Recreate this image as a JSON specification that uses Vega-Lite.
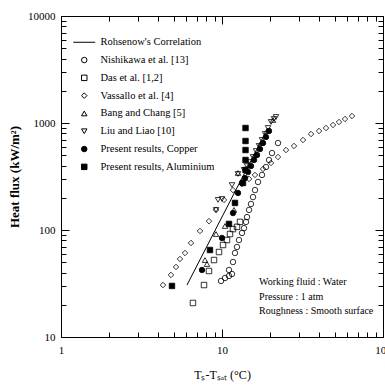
{
  "$schema": "https://vega.github.io/schema/vega-lite/v6.json",
  "width": 322,
  "height": 321,
  "autosize": {"type": "none"},
  "padding": {"left": 61, "top": 16, "right": 2, "bottom": 50},
  "background": "white",
  "config": {
    "view": {"stroke": null},
    "font": "Liberation Serif",
    "axis": {
      "grid": false,
      "domainColor": "black",
      "domainWidth": 1,
      "labelColor": "black",
      "labelFont": "Liberation Serif",
      "labelFontSize": 11,
      "titleColor": "black",
      "titleFont": "Liberation Serif"
    },
    "legend": {
      "orient": "none",
      "legendX": 18,
      "legendY": 21,
      "padding": 0,
      "labelFont": "Liberation Serif",
      "labelFontSize": 10.5,
      "labelColor": "black",
      "symbolSize": 30,
      "symbolStrokeWidth": 1,
      "symbolStrokeColor": "black",
      "rowPadding": 6.8,
      "labelOffset": 11,
      "labelLimit": 300
    }
  },
  "datasets": {
    "line": [
      {"dT": 6.06, "q": 30.6},
      {"dT": 18.5, "q": 800}
    ],
    "pts": [
      {"series": "Vassallo et al. [4]", "dT": 4.30, "q": 30.6},
      {"series": "Vassallo et al. [4]", "dT": 4.82, "q": 38.0},
      {"series": "Vassallo et al. [4]", "dT": 5.18, "q": 45.1},
      {"series": "Vassallo et al. [4]", "dT": 5.48, "q": 53.6},
      {"series": "Vassallo et al. [4]", "dT": 5.89, "q": 61.0},
      {"series": "Vassallo et al. [4]", "dT": 6.42, "q": 75.6},
      {"series": "Vassallo et al. [4]", "dT": 7.30, "q": 97.9},
      {"series": "Vassallo et al. [4]", "dT": 8.30, "q": 121},
      {"series": "Vassallo et al. [4]", "dT": 9.18, "q": 154},
      {"series": "Vassallo et al. [4]", "dT": 10.29, "q": 191},
      {"series": "Vassallo et al. [4]", "dT": 11.70, "q": 236},
      {"series": "Vassallo et al. [4]", "dT": 13.31, "q": 269},
      {"series": "Vassallo et al. [4]", "dT": 14.72, "q": 300},
      {"series": "Vassallo et al. [4]", "dT": 16.03, "q": 327},
      {"series": "Vassallo et al. [4]", "dT": 17.98, "q": 372},
      {"series": "Vassallo et al. [4]", "dT": 20.16, "q": 423},
      {"series": "Vassallo et al. [4]", "dT": 22.28, "q": 481},
      {"series": "Vassallo et al. [4]", "dT": 24.97, "q": 559},
      {"series": "Vassallo et al. [4]", "dT": 28.01, "q": 610},
      {"series": "Vassallo et al. [4]", "dT": 31.85, "q": 694},
      {"series": "Vassallo et al. [4]", "dT": 35.72, "q": 789},
      {"series": "Vassallo et al. [4]", "dT": 40.05, "q": 842},
      {"series": "Vassallo et al. [4]", "dT": 44.26, "q": 898},
      {"series": "Vassallo et al. [4]", "dT": 48.93, "q": 958},
      {"series": "Vassallo et al. [4]", "dT": 53.31, "q": 1022},
      {"series": "Vassallo et al. [4]", "dT": 58.07, "q": 1090},
      {"series": "Vassallo et al. [4]", "dT": 64.19, "q": 1162},

      {"series": "Nishikawa et al. [13]", "dT": 9.86, "q": 33.4},
      {"series": "Nishikawa et al. [13]", "dT": 10.44, "q": 35.6},
      {"series": "Nishikawa et al. [13]", "dT": 11.05, "q": 37.2},
      {"series": "Nishikawa et al. [13]", "dT": 11.54, "q": 38.8},
      {"series": "Nishikawa et al. [13]", "dT": 11.05, "q": 42.3},
      {"series": "Nishikawa et al. [13]", "dT": 11.70, "q": 50.2},
      {"series": "Nishikawa et al. [13]", "dT": 12.04, "q": 61.0},
      {"series": "Nishikawa et al. [13]", "dT": 12.39, "q": 69.4},
      {"series": "Nishikawa et al. [13]", "dT": 12.75, "q": 80.6},
      {"series": "Nishikawa et al. [13]", "dT": 13.31, "q": 93.8},
      {"series": "Nishikawa et al. [13]", "dT": 13.70, "q": 104},
      {"series": "Nishikawa et al. [13]", "dT": 14.10, "q": 119},
      {"series": "Nishikawa et al. [13]", "dT": 14.30, "q": 132},
      {"series": "Nishikawa et al. [13]", "dT": 14.72, "q": 154},
      {"series": "Nishikawa et al. [13]", "dT": 15.14, "q": 175},
      {"series": "Nishikawa et al. [13]", "dT": 15.58, "q": 203},
      {"series": "Nishikawa et al. [13]", "dT": 16.03, "q": 236},
      {"series": "Nishikawa et al. [13]", "dT": 16.74, "q": 281},
      {"series": "Nishikawa et al. [13]", "dT": 17.72, "q": 327},
      {"series": "Nishikawa et al. [13]", "dT": 18.77, "q": 388},
      {"series": "Nishikawa et al. [13]", "dT": 19.59, "q": 451},
      {"series": "Nishikawa et al. [13]", "dT": 20.45, "q": 524},
      {"series": "Nishikawa et al. [13]", "dT": 22.28, "q": 650},

      {"series": "Das et al. [1,2]", "dT": 6.60, "q": 20.8},
      {"series": "Das et al. [1,2]", "dT": 7.73, "q": 30.6},
      {"series": "Das et al. [1,2]", "dT": 8.30, "q": 41.4},
      {"series": "Das et al. [1,2]", "dT": 8.92, "q": 52.4},
      {"series": "Das et al. [1,2]", "dT": 9.58, "q": 62.3},
      {"series": "Das et al. [1,2]", "dT": 10.15, "q": 72.4},
      {"series": "Das et al. [1,2]", "dT": 10.74, "q": 80.6},
      {"series": "Das et al. [1,2]", "dT": 11.21, "q": 91.7},
      {"series": "Das et al. [1,2]", "dT": 11.70, "q": 102},
      {"series": "Das et al. [1,2]", "dT": 12.39, "q": 107},
      {"series": "Das et al. [1,2]", "dT": 12.94, "q": 119},

      {"series": "Bang and Chang [5]", "dT": 7.84, "q": 52.4},
      {"series": "Bang and Chang [5]", "dT": 8.07, "q": 48.1},
      {"series": "Bang and Chang [5]", "dT": 9.18, "q": 91.7},
      {"series": "Bang and Chang [5]", "dT": 10.44, "q": 109},
      {"series": "Bang and Chang [5]", "dT": 11.87, "q": 154},
      {"series": "Bang and Chang [5]", "dT": 12.57, "q": 341},
      {"series": "Bang and Chang [5]", "dT": 14.72, "q": 405},
      {"series": "Bang and Chang [5]", "dT": 16.03, "q": 502},
      {"series": "Bang and Chang [5]", "dT": 17.47, "q": 650},
      {"series": "Bang and Chang [5]", "dT": 19.04, "q": 842},
      {"series": "Bang and Chang [5]", "dT": 20.74, "q": 1067},

      {"series": "Liu and Liao [10]", "dT": 9.18, "q": 154},
      {"series": "Liu and Liao [10]", "dT": 9.45, "q": 191},
      {"series": "Liu and Liao [10]", "dT": 10.0, "q": 195},
      {"series": "Liu and Liao [10]", "dT": 11.54, "q": 263},
      {"series": "Liu and Liao [10]", "dT": 12.57, "q": 334},
      {"series": "Liu and Liao [10]", "dT": 13.70, "q": 364},
      {"series": "Liu and Liao [10]", "dT": 14.30, "q": 396},
      {"series": "Liu and Liao [10]", "dT": 14.93, "q": 432},
      {"series": "Liu and Liao [10]", "dT": 15.58, "q": 481},
      {"series": "Liu and Liao [10]", "dT": 16.27, "q": 547},
      {"series": "Liu and Liao [10]", "dT": 16.98, "q": 610},
      {"series": "Liu and Liao [10]", "dT": 17.72, "q": 694},
      {"series": "Liu and Liao [10]", "dT": 18.50, "q": 789},
      {"series": "Liu and Liao [10]", "dT": 19.31, "q": 898},
      {"series": "Liu and Liao [10]", "dT": 20.16, "q": 1022},
      {"series": "Liu and Liao [10]", "dT": 21.04, "q": 1090},
      {"series": "Liu and Liao [10]", "dT": 21.65, "q": 1138},

      {"series": "Present results, Copper", "dT": 7.51, "q": 42.3},
      {"series": "Present results, Copper", "dT": 10.0, "q": 84.2},
      {"series": "Present results, Copper", "dT": 11.70, "q": 144},
      {"series": "Present results, Copper", "dT": 12.57, "q": 222},
      {"series": "Present results, Copper", "dT": 13.31, "q": 275},
      {"series": "Present results, Copper", "dT": 13.90, "q": 306},
      {"series": "Present results, Copper", "dT": 14.51, "q": 348},
      {"series": "Present results, Copper", "dT": 15.14, "q": 396},
      {"series": "Present results, Copper", "dT": 15.81, "q": 451},
      {"series": "Present results, Copper", "dT": 16.50, "q": 502},
      {"series": "Present results, Copper", "dT": 17.22, "q": 571},
      {"series": "Present results, Copper", "dT": 17.98, "q": 650},
      {"series": "Present results, Copper", "dT": 18.77, "q": 740},
      {"series": "Present results, Copper", "dT": 19.59, "q": 842},

      {"series": "Present results, Aluminium", "dT": 4.89, "q": 30.0},
      {"series": "Present results, Aluminium", "dT": 8.42, "q": 65.0},
      {"series": "Present results, Aluminium", "dT": 11.05, "q": 114},
      {"series": "Present results, Aluminium", "dT": 12.04, "q": 179},
      {"series": "Present results, Aluminium", "dT": 13.50, "q": 275},
      {"series": "Present results, Aluminium", "dT": 14.0, "q": 364},
      {"series": "Present results, Aluminium", "dT": 14.0, "q": 451},
      {"series": "Present results, Aluminium", "dT": 14.0, "q": 559},
      {"series": "Present results, Aluminium", "dT": 14.0, "q": 679},
      {"series": "Present results, Aluminium", "dT": 14.0, "q": 898}
    ]
  },
  "layer": [
    {
      "data": {"name": "line"},
      "mark": {"type": "line", "color": "black", "strokeWidth": 1},
      "encoding": {
        "x": {
          "field": "dT", "type": "quantitative",
          "scale": {"type": "log", "domain": [1, 100], "nice": false},
          "axis": {
            "orient": "bottom",
            "values": [1, 10, 100],
            "format": "d",
            "tickSize": 0,
            "tickColor": "black",
            "labelPadding": 7,
            "labelFlush": false,
            "labelOverlap": false,
            "title": "Tₛ-Tₛₐₜ (°C)",
            "titleFontSize": 12,
            "titleFontWeight": "normal",
            "titlePadding": 14
          }
        },
        "y": {
          "field": "q", "type": "quantitative",
          "scale": {"type": "log", "domain": [10, 10000], "nice": false},
          "axis": {
            "orient": "left",
            "values": [10, 100, 1000, 10000],
            "format": "d",
            "tickSize": 0,
            "tickColor": "black",
            "labelPadding": 6,
            "labelFlush": false,
            "labelOverlap": false,
            "title": "Heat flux (kW/m²)",
            "titleFontSize": 13,
            "titleFontWeight": "bold",
            "titlePadding": 6
          }
        }
      }
    },
    {
      "data": {"name": "pts"},
      "mark": {"type": "point", "strokeWidth": 0.8, "size": 30, "opacity": 1},
      "encoding": {
        "x": {
          "field": "dT", "type": "quantitative",
          "scale": {"type": "log", "domain": [1, 100], "nice": false},
          "axis": {
            "orient": "top",
            "offset": -321,
            "values": [2,3,4,5,6,7,8,9,20,30,40,50,60,70,80,90],
            "labels": false,
            "domain": false,
            "tickSize": 5,
            "tickWidth": 1,
            "tickColor": "black",
            "title": null
          }
        },
        "y": {
          "field": "q", "type": "quantitative",
          "scale": {"type": "log", "domain": [10, 10000], "nice": false},
          "axis": {
            "orient": "right",
            "offset": -322,
            "values": [20,30,40,50,60,70,80,90,200,300,400,500,600,700,800,900,2000,3000,4000,5000,6000,7000,8000,9000],
            "labels": false,
            "domain": false,
            "tickSize": 5,
            "tickWidth": 1,
            "tickColor": "black",
            "title": null
          }
        },
        "shape": {
          "field": "series", "type": "nominal",
          "scale": {
            "domain": ["Rohsenow's Correlation", "Nishikawa et al. [13]", "Das et al. [1,2]", "Vassallo et al. [4]", "Bang and Chang [5]", "Liu and Liao [10]", "Present results, Copper", "Present results, Aluminium"],
            "range": ["M-4,0H4", "circle", "square", "diamond", "triangle-up", "triangle-down", "circle", "square"]
          },
          "legend": {"title": null}
        },
        "fill": {
          "field": "series", "type": "nominal",
          "scale": {
            "domain": ["Rohsenow's Correlation", "Nishikawa et al. [13]", "Das et al. [1,2]", "Vassallo et al. [4]", "Bang and Chang [5]", "Liu and Liao [10]", "Present results, Copper", "Present results, Aluminium"],
            "range": ["transparent", "transparent", "transparent", "transparent", "transparent", "transparent", "black", "black"]
          },
          "legend": {"title": null}
        },
        "stroke": {
          "field": "series", "type": "nominal",
          "scale": {
            "domain": ["Rohsenow's Correlation", "Nishikawa et al. [13]", "Das et al. [1,2]", "Vassallo et al. [4]", "Bang and Chang [5]", "Liu and Liao [10]", "Present results, Copper", "Present results, Aluminium"],
            "range": ["black", "black", "black", "black", "black", "black", "black", "black"]
          },
          "legend": {"title": null}
        }
      }
    },
    {
      "data": {"values": [{}]},
      "mark": {"type": "text", "align": "left", "baseline": "middle", "lineBreak": "\n", "lineHeight": 14.5, "font": "Liberation Serif", "fontSize": 10, "color": "black"},
      "encoding": {
        "x": {
          "datum": 17, "type": "quantitative",
          "scale": {"type": "log", "domain": [1, 100], "nice": false},
          "axis": {
            "orient": "bottom",
            "offset": -321,
            "values": [2,3,4,5,6,7,8,9,20,30,40,50,60,70,80,90],
            "labels": false,
            "domain": true,
            "tickSize": 5,
            "tickWidth": 1,
            "tickColor": "black",
            "title": null
          }
        },
        "y": {
          "datum": 32.5, "type": "quantitative",
          "scale": {"type": "log", "domain": [10, 10000], "nice": false},
          "axis": {
            "orient": "left",
            "offset": -322,
            "values": [20,30,40,50,60,70,80,90,200,300,400,500,600,700,800,900,2000,3000,4000,5000,6000,7000,8000,9000],
            "labels": false,
            "domain": true,
            "tickSize": 5,
            "tickWidth": 1,
            "tickColor": "black",
            "title": null
          }
        },
        "text": {"value": "Working fluid : Water\nPressure : 1 atm\nRoughness : Smooth surface"}
      }
    },
    {
      "data": {"name": "line"},
      "mark": {"type": "point", "opacity": 0},
      "encoding": {
        "x": {
          "field": "dT", "type": "quantitative",
          "scale": {"type": "log", "domain": [1, 100], "nice": false},
          "axis": {
            "orient": "top",
            "offset": -321,
            "values": [1, 10, 100],
            "labels": false,
            "domain": false,
            "tickSize": 8,
            "tickWidth": 1,
            "tickColor": "black",
            "title": null
          }
        },
        "y": {
          "field": "q", "type": "quantitative",
          "scale": {"type": "log", "domain": [10, 10000], "nice": false},
          "axis": {
            "orient": "right",
            "offset": -322,
            "values": [10, 100, 1000, 10000],
            "labels": false,
            "domain": false,
            "tickSize": 8,
            "tickWidth": 1,
            "tickColor": "black",
            "title": null
          }
        }
      }
    },
    {
      "data": {"name": "line"},
      "mark": {"type": "point", "opacity": 0},
      "encoding": {
        "x": {
          "field": "dT", "type": "quantitative",
          "scale": {"type": "log", "domain": [1, 100], "nice": false},
          "axis": {
            "orient": "bottom",
            "offset": -321,
            "values": [1, 10, 100],
            "labels": false,
            "domain": false,
            "tickSize": 8,
            "tickWidth": 1,
            "tickColor": "black",
            "title": null
          }
        },
        "y": {
          "field": "q", "type": "quantitative",
          "scale": {"type": "log", "domain": [10, 10000], "nice": false},
          "axis": {
            "orient": "left",
            "offset": -322,
            "values": [10, 100, 1000, 10000],
            "labels": false,
            "domain": false,
            "tickSize": 8,
            "tickWidth": 1,
            "tickColor": "black",
            "title": null
          }
        }
      }
    }
  ],
  "resolve": {"axis": {"x": "independent", "y": "independent"}}
}
